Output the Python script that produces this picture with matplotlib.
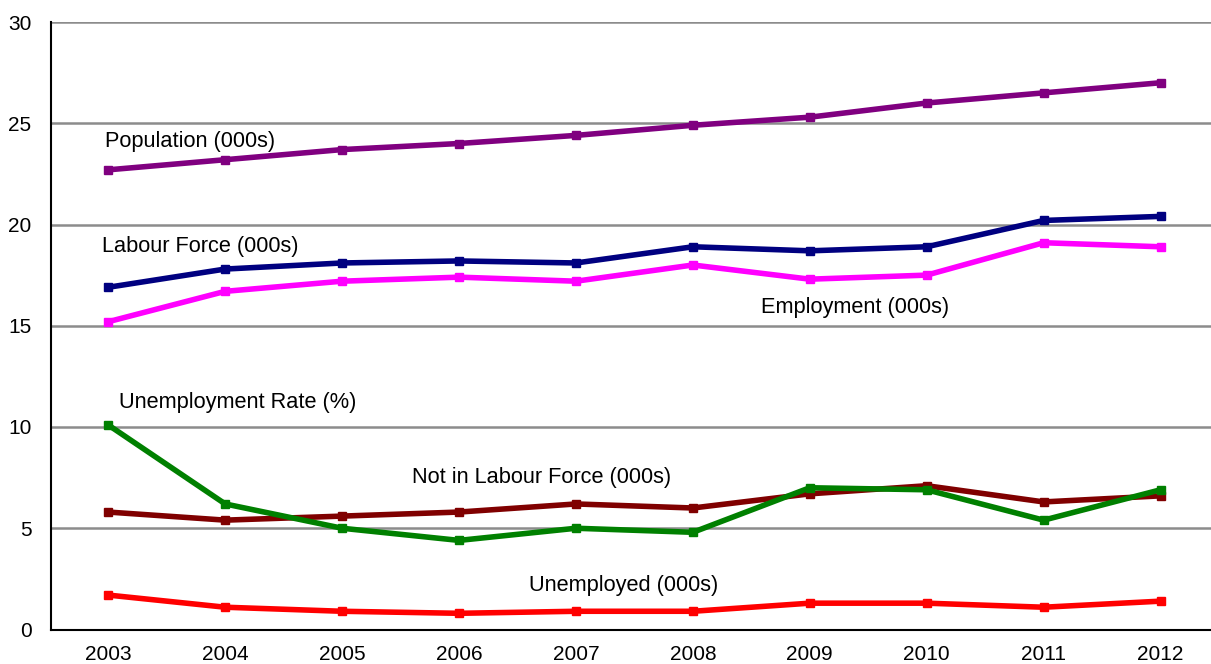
import matplotlib
matplotlib.use('Agg')
import matplotlib.pyplot as plt

years = ['2003', '2004', '2005', '2006', '2007', '2008', '2009', '2010', '2011', '2012']
population = [22.7, 23.2, 23.7, 24.0, 24.4, 24.9, 25.3, 26.0, 26.5, 27.0]
labour_force = [16.9, 17.8, 18.1, 18.2, 18.1, 18.9, 18.7, 18.9, 20.2, 20.4]
employment = [15.2, 16.7, 17.2, 17.4, 17.2, 18.0, 17.3, 17.5, 19.1, 18.9]
unemp_rate = [10.1, 6.2, 5.0, 4.4, 5.0, 4.8, 7.0, 6.9, 5.4, 6.9]
not_in_lf = [5.8, 5.4, 5.6, 5.8, 6.2, 6.0, 6.7, 7.1, 6.3, 6.6]
unemployed = [1.7, 1.1, 0.9, 0.8, 0.9, 0.9, 1.3, 1.3, 1.1, 1.4]

plt.rcParams['font.family'] = ['Liberation Sans', 'DejaVu Sans']

fig = plt.figure(figsize=(12.11, 6.64), dpi=100)
ax = fig.add_axes([51 / 1211, 34.5 / 664, 1168 / 1211, 607.5 / 664])

x = range(len(years))
series = [
    (population, '#800080', 'Population (000s)', -0.03, 24.1),
    (labour_force, '#000080', 'Labour Force (000s)', -0.05, 18.9),
    (employment, '#FF00FF', 'Employment (000s)', 5.58, 15.9),
    (not_in_lf, '#800000', 'Not in Labour Force (000s)', 2.6, 7.5),
    (unemp_rate, '#008000', 'Unemployment Rate (%)', 0.09, 11.2),
    (unemployed, '#FF0000', 'Unemployed (000s)', 3.6, 2.15),
]
for vals, col, lab, tx, ty in series:
    ax.plot(x, vals, color=col, lw=4, marker='s', ms=6, mec=col, mfc=col, solid_joinstyle='round')
    ax.text(tx, ty, lab, fontsize=15.7, ha='left', va='center', color='black')

ax.set_ylim(0, 30)
ax.set_yticks([0, 5, 10, 15, 20, 25, 30])
ax.set_xlim(-0.49, 9.5)
ax.set_xticks(list(x))
ax.set_xticklabels(years)
ax.yaxis.grid(True, color='#8c8c8c', lw=1.8)
ax.set_axisbelow(True)
ax.tick_params(axis='both', length=0, labelsize=15)
ax.tick_params(axis='y', pad=14)
ax.tick_params(axis='x', pad=11)
for s in ['top', 'right']:
    ax.spines[s].set_visible(False)
ax.spines['left'].set_linewidth(1.5)
ax.spines['bottom'].set_linewidth(1.5)

fig.savefig('out.png', dpi=100)
